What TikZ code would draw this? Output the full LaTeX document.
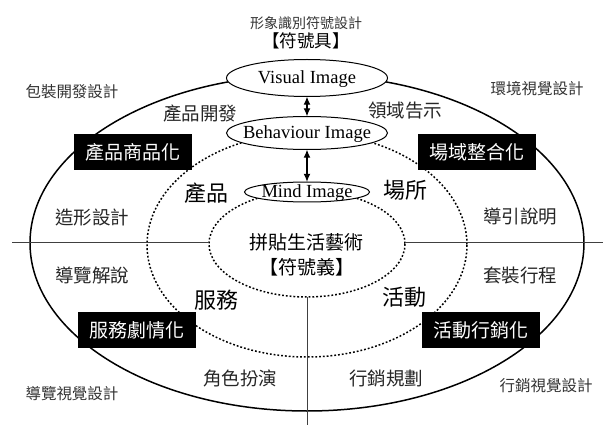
\documentclass[tikz,border=0pt]{standalone}
\usepackage{fontspec}
\setmainfont{Liberation Serif}
\newfontfamily\cjk{Noto Sans CJK TC}
\usetikzlibrary{arrows.meta}
\begin{document}
\begin{tikzpicture}[x=1pt,y=-1pt,
  lbl/.style={font=\cjk\fontsize{#1}{#1}\selectfont, inner sep=0pt},
  eimg/.style={inner sep=0pt, font=\fontsize{18.5}{19}\selectfont},
  eline/.style={draw, fill=white, line width=1pt},
  blackbox/.style={fill=black, text=white, minimum width=118pt, minimum height=36pt,
     inner sep=0pt, font=\cjk\fontsize{19}{19}\selectfont},
  dotline/.style={line width=1.5pt, dash pattern=on 1.8pt off 2pt},
  axis/.style={line width=0.9pt, black!75},
  dblarrow/.style={line width=1.2pt, {Latex[length=8pt,width=7pt]}-{Latex[length=8pt,width=7pt]}}
]
\useasboundingbox (0,0) rectangle (603,425);
\fill[white] (0,0) rectangle (603,425);

% ellipses
\draw[line width=1.5pt] (307,243) ellipse [x radius=277, y radius=168];
\draw[dotline] (307,245) ellipse [x radius=160, y radius=112];
\draw[dotline] (307,244) ellipse [x radius=98, y radius=53];

% axes
\coordinate (hl) at (12,242);
\coordinate (hr) at (603,242);
\coordinate (il) at (209,242);
\coordinate (ir) at (405,242);
\coordinate (ib) at (307,297);
\coordinate (vb) at (307,425);
\draw[axis] (hl) -- (il);
\draw[axis] (ir) -- (hr);
\draw[axis] (ib) -- (vb);

% image ellipses (node box = ellipse extent)
\node[eimg, minimum width=161pt, minimum height=37pt] (vis) at (307,78) {};
\node[eimg, minimum width=161pt, minimum height=33pt] (beh) at (307,133) {};
\node[eimg, minimum width=125pt, minimum height=20pt] (mind) at (307,192) {};
\path[eline] (vis.center) ellipse [x radius=80.5, y radius=18.5];
\path[eline] (beh.center) ellipse [x radius=80.5, y radius=16.5];
\path[eline] (mind.center) ellipse [x radius=62.5, y radius=10];
\node[eimg] at (vis.center) {\raisebox{-5.6pt}[0pt][0pt]{Visual Image}};
\node[eimg] at (beh.center) {\raisebox{-5.6pt}[0pt][0pt]{Behaviour Image}};
\node[eimg] at (mind.center) {\raisebox{-5.6pt}[0pt][0pt]{Mind Image}};
\draw[dblarrow] (vis.south) -- (beh.north);
\draw[dblarrow] (beh.south) -- (mind.north);

% black boxes
\node[blackbox] (b1) at (133,152) {產品商品化};
\node[blackbox] (b2) at (477,152) {場域整合化};
\node[blackbox] (b3) at (137,330) {服務劇情化};
\node[blackbox] (b4) at (481,330) {活動行銷化};

% top labels
\node[lbl=14, text=black!80] (t1) at (306,23) {形象識別符號設計};
\node[lbl=17.5] (t2) at (306,41) {【符號具】};

% corner labels
\node[lbl=15.5, text=black!80] (c1) at (72,92) {包裝開發設計};
\node[lbl=15.5, text=black!80] (c2) at (537,89) {環境視覺設計};
\node[lbl=15.5, text=black!80] (c3) at (72,394) {導覽視覺設計};
\node[lbl=15.5, text=black!80] (c4) at (546,386) {行銷視覺設計};

% four-char labels
\node[lbl=18.5, text=black!85] (f1) at (200,113) {產品開發};
\node[lbl=18.5, text=black!85] (f2) at (405,110) {領域告示};
\node[lbl=18.5, text=black!85] (f3) at (92,217) {造形設計};
\node[lbl=18.5, text=black!85] (f4) at (520,217) {導引說明};
\node[lbl=18.5, text=black!85] (f5) at (92,275) {導覽解說};
\node[lbl=18.5, text=black!85] (f6) at (520,276) {套裝行程};
\node[lbl=18.5, text=black!85] (f7) at (240,378) {角色扮演};
\node[lbl=18.5, text=black!85] (f8) at (386,378) {行銷規劃};

% big labels
\node[lbl=22] (g1) at (206,193) {產品};
\node[lbl=22] (g2) at (405,190) {場所};
\node[lbl=22] (g3) at (216,300) {服務};
\node[lbl=22] (g4) at (404,297) {活動};

% center
\node[lbl=19] (m1) at (306,242) {拼貼生活藝術};
\node[lbl=19] (m2) at (307,267) {【符號義】};
\end{tikzpicture}
\end{document}
